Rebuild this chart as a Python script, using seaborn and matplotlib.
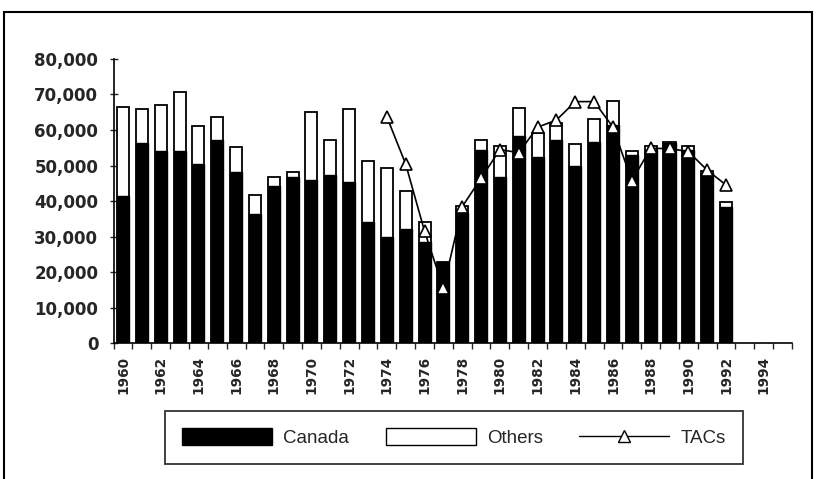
import matplotlib
matplotlib.use("Agg")
import matplotlib.pyplot as plt
import seaborn as sns
import pandas as pd
import numpy as np
from matplotlib.patches import Patch, Rectangle
from matplotlib.lines import Line2D
from matplotlib.ticker import FuncFormatter

# ---- data ----
years = list(range(1960, 1993))
canada = [41400, 56200, 54100, 54100, 50500, 57300, 48300, 36300, 44300, 46900,
          45800, 47400, 45300, 34100, 29900, 32200, 28500, 22800, 36500, 54400,
          46700, 58400, 52500, 57200, 49900, 56700, 61500, 53000, 54400, 56300,
          54400, 47800, 38400]
others = [25000, 9700, 12900, 16500, 10600, 6300, 7000, 5300, 2600, 1300,
          19400, 9900, 20700, 17100, 19300, 10700, 5500, 0, 2200, 2800,
          8800, 7700, 6600, 4700, 6200, 6300, 6800, 1200, 1100, 400,
          1100, 700, 1400]
tac_years = list(range(1974, 1993))
tacs = [63700, 50400, 31500, 15400, 38400, 46400, 54500, 53600, 60800, 62800,
        68000, 68000, 60800, 45700, 54800, 54800, 53900, 48700, 44500]
axis_years = list(range(1960, 1996))
tick_years = list(range(1960, 1995, 2))
y_ticks = list(range(0, 80001, 10000))
series_labels = ["Canada", "Others", "TACs"]

order = [str(y) for y in axis_years]
df = pd.DataFrame({"year": [str(y) for y in years],
                   "canada": canada,
                   "total": np.array(canada) + np.array(others)})
tac_df = pd.DataFrame({"pos": [order.index(str(y)) for y in tac_years],
                       "tac": tacs})

sns.set_style("ticks")
plt.rcParams["font.family"] = ["DejaVu Sans"]

fig = plt.figure(figsize=(8.19, 4.79), dpi=100)
ax = fig.add_axes([113.6 / 819, 1 - 343 / 479, (792 - 113.6) / 819, (343 - 59) / 479])

sns.barplot(data=df, x="year", y="total", order=order, color="white",
            edgecolor="black", linewidth=1.3, width=0.64, saturation=1,
            errorbar=None, ax=ax)
sns.barplot(data=df, x="year", y="canada", order=order, color="black",
            edgecolor="black", linewidth=1.0, width=0.64, saturation=1,
            errorbar=None, ax=ax)
sns.lineplot(data=tac_df, x="pos", y="tac", color="black", linewidth=1.2,
             marker="^", markersize=8, markerfacecolor="white",
             markeredgecolor="black", markeredgewidth=1.2, ax=ax, zorder=5)

ax.set_xlim(-0.5, len(order) - 0.5)
ax.set_ylim(0, 80000)
ax.set_yticks(y_ticks)
ax.yaxis.set_major_formatter(FuncFormatter(lambda v, p: f"{int(v):,}"))
major_pos = [order.index(str(y)) for y in tick_years]
ax.set_xticks(major_pos)
ax.set_xticklabels([str(y) for y in tick_years], rotation=90,
                   fontsize=9.8, fontweight="bold")
ax.set_xticks(np.arange(-0.5, len(order), 1.0), minor=True)
ax.tick_params(axis="x", which="major", length=0, pad=9)
ax.tick_params(axis="x", which="minor", length=4, direction="out", width=1)
ax.tick_params(axis="y", length=6, direction="inout", width=1, pad=8)
for lab in ax.get_yticklabels():
    lab.set_fontsize(12)
    lab.set_fontweight("bold")
ax.set_xlabel("")
ax.set_ylabel("")
sns.despine(ax=ax)
for s in ["left", "bottom"]:
    ax.spines[s].set_linewidth(1.2)
    ax.spines[s].set_color("black")

# figure frame
fig.patches.append(Rectangle((4 / 819, -0.05), (812 - 4) / 819, 1.05 - 12 / 479,
                             transform=fig.transFigure, fill=False,
                             edgecolor="black", linewidth=1.5))

handles = [Patch(facecolor="black", edgecolor="black"),
           Patch(facecolor="white", edgecolor="black"),
           Line2D([], [], color="black", linewidth=1.0, marker="^",
                  markersize=8, markerfacecolor="white", markeredgecolor="black")]
leg = fig.legend(handles, series_labels, loc="lower left",
                 bbox_to_anchor=(165 / 819, 1 - 464 / 479), ncol=3,
                 frameon=True, fancybox=False, edgecolor="black",
                 prop={"family": "Liberation Sans", "size": 13.5},
                 handlelength=4.8, handleheight=1.0, handletextpad=0.6,
                 columnspacing=1.95, borderpad=0.9, borderaxespad=0)
leg.get_frame().set_linewidth(1.3)

fig.savefig("out.png", dpi=100, facecolor="white")
